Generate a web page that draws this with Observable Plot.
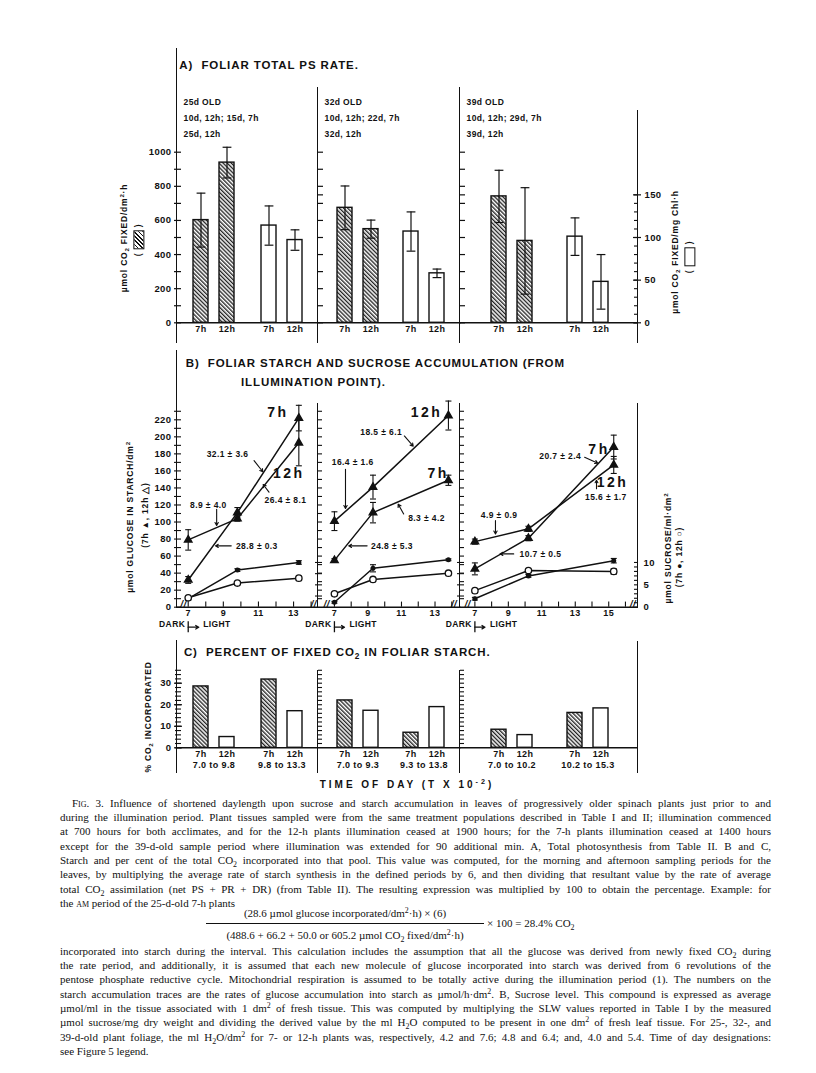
<!DOCTYPE html>
<html>
<head>
<meta charset="utf-8">
<script src="https://cdn.jsdelivr.net/npm/d3@7"></script>
<script src="https://cdn.jsdelivr.net/npm/@observablehq/plot@0.6"></script>
<style>
  html, body { margin: 0; padding: 0; background: #fff; }
  #page { position: relative; width: 816px; height: 1073px; overflow: hidden; background: #fff; color: #111;
          font-family: "Liberation Sans", Arial, Helvetica, sans-serif; }
  .vline { position: absolute; width: 0; border-left: 1.6px solid #111; }
  .ttl { position: absolute; font-weight: bold; font-size: 11.5px; letter-spacing: 0.9px; white-space: nowrap; line-height: 14px; }
  .rot { position: absolute; transform: translate(-50%, -50%) rotate(-90deg); white-space: nowrap; font-weight: bold;
         font-size: 8.5px; letter-spacing: 0.8px; line-height: 10px; }
  sub { font-size: 72%; vertical-align: -0.35em; line-height: 0; }
  sup { font-size: 72%; vertical-align: 0.55em; line-height: 0; }
  .hbox { display: inline-block; width: 17px; height: 9px; border: 1.5px solid #111; vertical-align: middle;
          background: repeating-linear-gradient(-45deg, #111 0 1.2px, #fff 1.2px 3px); }
  .obox { display: inline-block; width: 17px; height: 9px; border: 1.5px solid #111; vertical-align: middle; background: #fff; }
  .cap { position: absolute; left: 60px; width: 711px; font-family: "Liberation Serif", "Times New Roman", serif;
         font-size: 11px; color: #111; }
  .cap div { height: 14.3px; line-height: 14.3px; text-align: justify; text-align-last: justify; }
  .cap div.last { text-align-last: left; }
  .sc { font-variant: small-caps; }
  svg.fig text { letter-spacing: 0.4px; }
  svg.fig g[font-size="14"] text { letter-spacing: 2.5px; }
</style>
</head>
<body>
<svg width="0" height="0" style="position:absolute">
  <defs>
    <pattern id="hatch" patternUnits="userSpaceOnUse" width="2.9" height="2.9" patternTransform="rotate(-45)">
      <rect width="2.9" height="2.9" fill="#fff"></rect>
      <line x1="0.7" y1="0" x2="0.7" y2="2.9" stroke="#111" stroke-width="1.25"></line>
    </pattern>
  </defs>
</svg>
<div id="page"></div>
<script>
// ======================= DATA =======================
const ages = ["25d", "32d", "39d"];
const ageNotes = [
  "25d OLD\n10d, 12h; 15d, 7h\n25d, 12h",
  "32d OLD\n10d, 12h; 22d, 7h\n32d, 12h",
  "39d OLD\n10d, 12h; 29d, 7h\n39d, 12h"
];
const barHours = ["7h", "12h"];

// A) total PS rate: hatched = µmol CO2 fixed/dm²·h (left axis), open = µmol CO2 fixed/mg Chl·h (right axis)
const psArea7h = [602, 674, 741];
const psArea7hErr = [158, 128, 153];
const psArea12h = [939, 549, 480];
const psArea12hErr = [90, 53, 312];
const psChl7h = [114, 107, 101];
const psChl7hErr = [23, 23, 22];
const psChl12h = [97, 58, 48];
const psChl12hErr = [12, 5, 32];
const psAreaTicks = [0, 200, 400, 600, 800, 1000];
const psChlTicks = [0, 50, 100, 150];

// B) starch (µmol glucose/dm²) and sucrose (µmol/ml·dm²) vs time of day (T x 10^-2)
const sampleTimes = [[7, 9.8, 13.3], [7, 9.3, 13.8], [7, 10.2, 15.3]];
const starch7h = [[32, 111, 222], [55, 111, 149], [45, 81, 188]];
const starch7hErr = [[4, 6, 15], [2, 12, 6], [7, 3, 14]];
const starch12h = [[79, 104, 193], [101, 141, 225], [77, 92, 167]];
const starch12hErr = [[12, 3, 27], [11, 14, 17], [3, 3, 10]];
const sucrose7h = [[1.9, 8.3, 10.0], [1.1, 8.7, 10.6], [1.9, 7.0, 10.4]];
const sucrose7hErr = [[0.3, 0.3, 0.4], [0.2, 0.8, 0.2], [0.3, 0.3, 0.5]];
const sucrose12h = [[2.1, 5.4, 6.5], [3.0, 6.2, 7.6], [3.7, 8.2, 8.0]];
const sucrose12hErr = [[0.2, 0.3, 0.4], [0.3, 0.3, 0.3], [0.3, 0.3, 0.6]];
const rateTexts = [
  ["32.1 ± 3.6", "26.4 ± 8.1", "8.9 ± 4.0", "28.8 ± 0.3"],
  ["18.5 ± 6.1", "16.4 ± 1.6", "8.3 ± 4.2", "24.8 ± 5.3"],
  ["20.7 ± 2.4", "15.6 ± 1.7", "4.9 ± 0.9", "10.7 ± 0.5"]
];
const seriesNames = [["7h", "12h"], ["12h", "7h"], ["7h", "12h"]];
const glucoseTicks = [0, 20, 40, 60, 80, 100, 120, 140, 160, 180, 200, 220];
const sucroseTicks = [0, 5, 10];
const hourTicks = [[7, 9, 11, 13], [7, 9, 11, 13], [7, 9, 11, 13, 15]];

// C) percent of fixed CO2 in foliar starch
const pct7h = [28.5, 31.7, 22.0, 7.0, 8.4, 16.2];
const pct12h = [5.0, 17.0, 17.2, 18.9, 5.9, 18.3];
const periods = ["7.0 to 9.8", "9.8 to 13.3", "7.0 to 9.3", "9.3 to 13.8", "7.0 to 10.2", "10.2 to 15.3"];
const pctTicks = [0, 10, 20, 30];

// ======================= LAYOUT =======================
const INK = "#111";
const FONT = '"Liberation Sans", Arial, Helvetica, sans-serif';
const FR = [176.5, 317.5, 460, 638];            // frame lines (page px)
const BAND = [
  {range: [15, 126], paddingInner: 0.391},
  {range: [18, 127], paddingInner: 0.373},
  {range: [30.5, 149.5], paddingInner: 0.4545}
];
const INSET = 26, OFF = 13;
const CHL = 1000 / 200;     // right axis of A: 200 µmol/mg Chl·h ≙ 1000 µmol/dm²·h
const SUC = 52.5 / 10;      // right axis of B: 10 µmol sucrose ≙ 52.5 µmol glucose
const ROW_A = {top: 40, height: 310, mt: 111.7, mb: 27.7};
const ROW_B = {top: 390, height: 250, mt: 29.3, mb: 33.3};
const ROW_C = {top: 630, height: 150, mt: 52.7, mb: 32.7};
const xDomB = [[6.39, 14.42], [6.05, 14.55], [6.14, 16.78]];
const rateAnchors = [
  [[9.24, 179], [12.54, 125], [8.15, 120], [10.91, 72]],
  [[9.79, 205], [8.09, 170], [12.49, 104], [10.43, 72]],
  [[12.10, 177], [14.83, 129], [8.45, 107.5], [10.92, 62.6]]
];
const rateArrows = [
  [[10.75, 172, 11.25, 159], [11.6, 135, 11.27, 144], [8.62, 115, 8.62, 96], [9.45, 72, 8.55, 72]],
  [[11.17, 201, 11.7, 189], [7.66, 162, 7.66, 116], [11.13, 109.5, 10.8, 121], [8.95, 72, 7.85, 72]],
  [[13.56, 176, 14.35, 169], [14.27, 139, 14.27, 149], [8.23, 101.6, 8.23, 86], [9.32, 62.6, 8.5, 62.6]]
];
const seriesAnchors = [[[12.11, 228.6], [12.73, 157]], [[12.49, 228.6], [13.19, 156.4]], [[14.42, 185.7], [15.23, 146.5]]];
const breakAt = [[6.74, 14.15], [6.55, 14.13], [6.57, 16.45]];

const page = document.getElementById("page");
const cap = {draw(ctx, size) { const r = Math.sqrt(size / Math.PI); ctx.moveTo(-r, 0); ctx.lineTo(r, 0); }};

function chart(o) {
  const svg = Plot.plot({
    width: o.width, height: o.row.height,
    marginTop: o.row.mt, marginBottom: o.row.mb, marginLeft: 0, marginRight: 0,
    x: Object.assign({axis: null}, o.x),
    y: Object.assign({axis: null}, o.y),
    style: {overflow: "visible", background: "transparent", fontFamily: FONT, color: INK},
    marks: o.marks
  });
  svg.classList.add("fig");
  svg.style.position = "absolute";
  svg.style.left = o.left + "px";
  svg.style.top = o.row.top + "px";
  page.appendChild(svg);
}
function addDiv(cls, css, inner) {
  const d = document.createElement("div");
  if (cls) d.className = cls;
  Object.assign(d.style, css);
  d.innerHTML = inner;
  page.appendChild(d);
  return d;
}
function vline(x, y1, y2) { addDiv("vline", {left: (x - 0.8) + "px", top: y1 + "px", height: (y2 - y1) + "px"}, ""); }
function rot(cx, cy, inner, extra) { addDiv("rot", Object.assign({left: cx + "px", top: cy + "px"}, extra || {}), inner); }
const B = {fontWeight: "bold"};

// paired bars (hatched / open) with error bars, placed in a band of two groups
function pairedBars(rows, fillOf) {
  const m = [];
  for (const [h, inset, dx] of [["7h", {insetRight: INSET}, -OFF], ["12h", {insetLeft: INSET}, OFF]]) {
    for (const g of new Set(rows.map(r => r.g))) {
      const s = rows.filter(r => r.h === h && r.g === g);
      m.push(Plot.barY(s, {x: "g", y1: 0, y2: "v", fill: fillOf(h, g), stroke: INK, strokeWidth: 1.4, ...inset}));
    }
    const s = rows.filter(r => r.h === h && r.e != null);
    m.push(Plot.ruleX(s, {x: "g", y1: d => d.v - d.e, y2: d => d.v + d.e, dx, stroke: INK, strokeWidth: 1.2}));
    m.push(Plot.dot(s, {x: "g", y: d => d.v + d.e, dx, symbol: cap, r: 4.4, stroke: INK, fill: "none", strokeWidth: 1.2}));
    m.push(Plot.dot(s, {x: "g", y: d => d.v - d.e, dx, symbol: cap, r: 4.4, stroke: INK, fill: "none", strokeWidth: 1.2}));
    m.push(Plot.text(rows.filter(r => r.h === h), {x: "g", text: "h", dx, frameAnchor: "bottom", dy: 8.7, fontSize: 9, ...B}));
  }
  return m;
}

// ======================= ROW A =======================
ages.forEach((age, i) => {
  const w = FR[i + 1] - FR[i];
  const rows = [
    {g: "S", h: "7h", v: psArea7h[i], e: psArea7hErr[i]},
    {g: "S", h: "12h", v: psArea12h[i], e: psArea12hErr[i]},
    {g: "O", h: "7h", v: psChl7h[i] * CHL, e: psChl7hErr[i] * CHL},
    {g: "O", h: "12h", v: psChl12h[i] * CHL, e: psChl12hErr[i] * CHL}
  ];
  const marks = [
    Plot.ruleY([0], {stroke: INK, strokeWidth: 1.5}),
    ...pairedBars(rows, (h, g) => g === "S" ? "url(#hatch)" : "white"),
    Plot.text([ageNotes[i]], {text: d => d, frameAnchor: "top-left", textAnchor: "start", lineAnchor: "top",
      lineHeight: 1.86, dx: 6, dy: -58, fontSize: 8.5, ...B})
  ];
  if (i === 0) {
    marks.push(Plot.ruleY(d3.range(0, 1001, 100), {insetLeft: -3, insetRight: w - 4, stroke: INK, strokeWidth: 1.2}));
    marks.push(Plot.text(psAreaTicks, {y: d => d, text: d => String(d), frameAnchor: "left", textAnchor: "end", dx: -6, fontSize: 9.5, ...B}));
  } else {
    marks.push(Plot.ruleY(d3.range(0, 1001, 100).concat([750]), {insetRight: w - 5, stroke: INK, strokeWidth: 1.2}));
  }
  if (i === 2) {
    marks.push(Plot.ruleY(d3.range(0, 151, 10).map(v => v * CHL), {insetLeft: w - 4, stroke: INK, strokeWidth: 1.1}));
    marks.push(Plot.ruleY(psChlTicks.map(v => v * CHL), {insetLeft: w - 5, insetRight: -3, stroke: INK, strokeWidth: 1.2}));
    marks.push(Plot.text(psChlTicks, {y: v => v * CHL, text: v => String(v), frameAnchor: "right", textAnchor: "start", dx: 6, fontSize: 9.5, ...B}));
  }
  chart({left: FR[i], width: w, row: ROW_A,
    x: {type: "band", domain: ["S", "O"], range: BAND[i].range, paddingInner: BAND[i].paddingInner, paddingOuter: 0},
    y: {domain: [0, 1000]}, marks});
});

// ======================= ROW B =======================
ages.forEach((age, i) => {
  const w = FR[i + 1] - FR[i];
  const mk = (vals, errs, f) => sampleTimes[i].map((t, k) => ({t, v: vals[i][k] * f, e: errs[i][k] * f}));
  const s7 = mk(starch7h, starch7hErr, 1), s12 = mk(starch12h, starch12hErr, 1);
  const u7 = mk(sucrose7h, sucrose7hErr, SUC), u12 = mk(sucrose12h, sucrose12hErr, SUC);
  const all = [...s7, ...s12, ...u7, ...u12];
  const ann = rateTexts[i].map((text, k) => ({text, x: rateAnchors[i][k][0], y: rateAnchors[i][k][1]}));
  const arr = rateArrows[i].map(a => ({x1: a[0], y1: a[1], x2: a[2], y2: a[3]}));
  const lbl = seriesNames[i].map((text, k) => ({text, x: seriesAnchors[i][k][0], y: seriesAnchors[i][k][1]}));
  const line = {stroke: INK, strokeWidth: 1.5};
  const marks = [
    Plot.ruleY([0], {stroke: INK, strokeWidth: 1.5}),
    Plot.ruleX(d3.range(7, Math.floor(xDomB[i][1]) + 1), {x: d => d, y1: 0, y2: 6, stroke: INK, strokeWidth: 1.1}),
    Plot.text(hourTicks[i], {x: d => d, text: d => String(d), frameAnchor: "bottom", dy: 8.5, fontSize: 9, ...B}),
    Plot.text(breakAt[i], {x: d => d, text: () => "//", frameAnchor: "bottom", dy: -0.5, fontSize: 9.5, fontStyle: "italic", ...B}),
    Plot.text([7], {x: d => d, text: () => "DARK", frameAnchor: "bottom", textAnchor: "end", dx: -3, dy: 20, fontSize: 8.5, ...B}),
    Plot.ruleX([7], {x: d => d, y1: -17, y2: -30, stroke: INK, strokeWidth: 1.3}),
    Plot.arrow([7], {x1: d => d, x2: d => d + 0.6, y1: () => -23.5, y2: () => -23.5, headLength: 4, stroke: INK, strokeWidth: 1.3}),
    Plot.text([7], {x: d => d, text: () => "LIGHT", frameAnchor: "bottom", textAnchor: "start", dx: 15, dy: 20, fontSize: 8.5, ...B}),
    Plot.line(s7, {x: "t", y: "v", ...line}),
    Plot.line(s12, {x: "t", y: "v", ...line}),
    Plot.line(u7, {x: "t", y: "v", ...line}),
    Plot.line(u12, {x: "t", y: "v", ...line}),
    Plot.ruleX(all, {x: "t", y1: d => d.v - d.e, y2: d => d.v + d.e, stroke: INK, strokeWidth: 1.1}),
    Plot.dot(all, {x: "t", y: d => d.v + d.e, symbol: cap, r: 3, stroke: INK, fill: "none", strokeWidth: 1.1}),
    Plot.dot(all, {x: "t", y: d => d.v - d.e, symbol: cap, r: 3, stroke: INK, fill: "none", strokeWidth: 1.1}),
    Plot.dot([...s7, ...s12], {x: "t", y: "v", symbol: "triangle", r: 2.7, fill: INK, stroke: INK}),
    Plot.dot(u7, {x: "t", y: "v", r: 2.5, fill: INK}),
    Plot.dot(u12, {x: "t", y: "v", r: 3.2, fill: "white", stroke: INK, strokeWidth: 1.3}),
    Plot.text(ann, {x: "x", y: "y", text: "text", fontSize: 8.5, ...B}),
    Plot.arrow(arr, {x1: "x1", y1: "y1", x2: "x2", y2: "y2", headLength: 4.5, stroke: INK, strokeWidth: 1.1}),
    Plot.text(lbl, {x: "x", y: "y", text: "text", fontSize: 14, ...B})
  ];
  if (i === 0) {
    marks.push(Plot.ruleY(d3.range(0, 231, 10), {insetLeft: -3, insetRight: w - 4, stroke: INK, strokeWidth: 1.1}));
    marks.push(Plot.text(glucoseTicks, {y: d => d, text: d => String(d), frameAnchor: "left", textAnchor: "end", dx: -6, fontSize: 9.5, ...B}));
  } else {
    marks.push(Plot.ruleY(d3.range(10, 231, 10), {insetRight: w - 4, stroke: INK, strokeWidth: 1.1}));
    marks.push(Plot.ruleY([2.5, 5, 7.5, 10].map(v => v * SUC), {insetLeft: -3, insetRight: w - 4, stroke: INK, strokeWidth: 1.1}));
  }
  if (i === 2) {
    marks.push(Plot.ruleY(d3.range(0, 11, 1).map(v => v * SUC), {insetLeft: w - 4, stroke: INK, strokeWidth: 1.1}));
    marks.push(Plot.text(sucroseTicks, {y: v => v * SUC, text: v => String(v), frameAnchor: "right", textAnchor: "start", dx: 5, fontSize: 9.5, ...B}));
  }
  chart({left: FR[i], width: w, row: ROW_B, x: {domain: xDomB[i]}, y: {domain: [0, 220]}, marks});
});

// ======================= ROW C =======================
ages.forEach((age, i) => {
  const w = FR[i + 1] - FR[i];
  const dom = [periods[2 * i], periods[2 * i + 1]];
  const rows = [];
  dom.forEach((p, k) => {
    rows.push({g: p, h: "7h", v: pct7h[2 * i + k]});
    rows.push({g: p, h: "12h", v: pct12h[2 * i + k]});
  });
  const marks = [
    Plot.ruleY([0], {stroke: INK, strokeWidth: 1.5}),
    ...pairedBars(rows, (h) => h === "7h" ? "url(#hatch)" : "white"),
    Plot.text(dom, {x: d => d, text: d => d, frameAnchor: "bottom", dy: 19.8, fontSize: 9, ...B})
  ];
  if (i === 0) {
    marks.push(Plot.ruleY(d3.range(0, 37, 2), {insetLeft: -2, insetRight: w - 4, stroke: INK, strokeWidth: 1.1}));
    marks.push(Plot.ruleY(pctTicks, {insetLeft: -3, insetRight: w - 5, stroke: INK, strokeWidth: 1.2}));
    marks.push(Plot.text(pctTicks, {y: d => d, text: d => String(d), frameAnchor: "left", textAnchor: "end", dx: -6, fontSize: 9.5, ...B}));
  } else {
    marks.push(Plot.ruleY(d3.range(2, 37, 2), {insetRight: w - 4, stroke: INK, strokeWidth: 1.1}));
  }
  chart({left: FR[i], width: w, row: ROW_C,
    x: {type: "band", domain: dom, range: BAND[i].range, paddingInner: BAND[i].paddingInner, paddingOuter: 0},
    y: {domain: [0, 30]}, marks});
});

// ======================= FRAME LINES =======================
vline(FR[0], 48, 343); vline(FR[1], 87, 343); vline(FR[2], 87, 343); vline(FR[3], 110, 343);
vline(FR[0], 350, 607.5); vline(FR[1], 403, 607.5); vline(FR[2], 403, 607.5); vline(FR[3], 403, 607.5);
vline(FR[0], 640, 773); vline(FR[1], 670, 773); vline(FR[2], 670, 773); vline(FR[3], 641, 773);

// ======================= TITLES & AXIS LABELS =======================
addDiv("ttl", {left: "179.3px", top: "58px"}, "A)&nbsp; FOLIAR TOTAL PS RATE.");
addDiv("ttl", {left: "185.7px", top: "356.3px"}, "B)&nbsp; FOLIAR STARCH AND SUCROSE ACCUMULATION (FROM");
addDiv("ttl", {left: "241px", top: "374.7px"}, "ILLUMINATION POINT).");
addDiv("ttl", {left: "183.9px", top: "644.7px"}, "C)&nbsp; PERCENT OF FIXED CO<sub>2</sub> IN FOLIAR STARCH.");
addDiv("ttl", {left: "407px", top: "778px", transform: "translateX(-50%)", fontSize: "10px", letterSpacing: "3px"},
  "TIME OF DAY (T X 10<sup>-2</sup>)");

rot(123.5, 238, "µmol CO<sub>2</sub> FIXED/dm<sup>2</sup>·h");
rot(138.5, 240, '( <span class="hbox"></span> )');
rot(675, 252, "µmol CO<sub>2</sub> FIXED/mg Chl·h");
rot(690, 257, '( <span class="obox"></span> )');
rot(130, 517, "µmol GLUCOSE IN STARCH/dm<sup>2</sup>");
rot(145, 515, "(7h ▲, 12h △)");
rot(667.5, 547.5, "µmol SUCROSE/ml·dm<sup>2</sup>");
rot(679, 557, "(7h ●, 12h ○)");
rot(148, 716.5, "% CO<sub>2</sub> INCORPORATED");

// ======================= CAPTION =======================
const p1 = [
  '<span class="sc">Fig.</span> 3. Influence of shortened daylength upon sucrose and starch accumulation in leaves of progressively older spinach plants just prior to and',
  'during the illumination period. Plant tissues sampled were from the same treatment populations described in Table I and II; illumination commenced',
  'at 700 hours for both acclimates, and for the 12-h plants illumination ceased at 1900 hours; for the 7-h plants illumination ceased at 1400 hours',
  'except for the 39-d-old sample period where illumination was extended for 90 additional min. A, Total photosynthesis from Table II. B and C,',
  'Starch and per cent of the total CO<sub>2</sub> incorporated into that pool. This value was computed, for the morning and afternoon sampling periods for the',
  'leaves, by multiplying the average rate of starch synthesis in the defined periods by 6, and then dividing that resultant value by the rate of average',
  'total CO<sub>2</sub> assimilation (net PS + PR + DR) (from Table II). The resulting expression was multiplied by 100 to obtain the percentage. Example: for',
  'the <span class="sc">am</span> period of the 25-d-old 7-h plants'
];
const p2 = [
  'incorporated into starch during the interval. This calculation includes the assumption that all the glucose was derived from newly fixed CO<sub>2</sub> during',
  'the rate period, and additionally, it is assumed that each new molecule of glucose incorporated into starch was derived from 6 revolutions of the',
  'pentose phosphate reductive cycle. Mitochondrial respiration is assumed to be totally active during the illumination period (1). The numbers on the',
  'starch accumulation traces are the rates of glucose accumulation into starch as µmol/h·dm<sup>2</sup>. B, Sucrose level. This compound is expressed as average',
  'µmol/ml in the tissue associated with 1 dm<sup>2</sup> of fresh tissue. This was computed by multiplying the SLW values reported in Table I by the measured',
  'µmol sucrose/mg dry weight and dividing the derived value by the ml H<sub>2</sub>O computed to be present in one dm<sup>2</sup> of fresh leaf tissue. For 25-, 32-, and',
  '39-d-old plant foliage, the ml H<sub>2</sub>O/dm<sup>2</sup> for 7- or 12-h plants was, respectively, 4.2 and 7.6; 4.8 and 6.4; and, 4.0 and 5.4. Time of day designations:',
  'see Figure 5 legend.'
];
function para(lines, top, indent) {
  const html = lines.map((l, k) => `<div class="${k === lines.length - 1 ? "last" : ""}" style="${k === 0 && indent ? "text-indent:12px" : ""}">${l}</div>`).join("");
  addDiv("cap", {top: top + "px"}, html);
}
para(p1, 795.9, true);
para(p2, 943.9, false);
addDiv("cap", {left: "206px", top: "906px", width: "278px", textAlign: "center", lineHeight: "14px"},
  '<div style="text-align:center;text-align-last:center;height:14px;line-height:14px">(28.6 µmol glucose incorporated/dm<sup>2</sup>·h) × (6)</div>' +
  '<div style="height:0;border-top:1px solid #111;margin-top:2.5px"></div>' +
  '<div style="text-align:center;text-align-last:center;height:14px;line-height:14px;margin-top:4px">(488.6 + 66.2 + 50.0 or 605.2 µmol CO<sub>2</sub> fixed/dm<sup>2</sup>·h)</div>');
addDiv("cap", {left: "487px", top: "916px", width: "auto", whiteSpace: "nowrap", lineHeight: "14px"}, "× 100 = 28.4% CO<sub>2</sub>");
</script>
</body>
</html>
